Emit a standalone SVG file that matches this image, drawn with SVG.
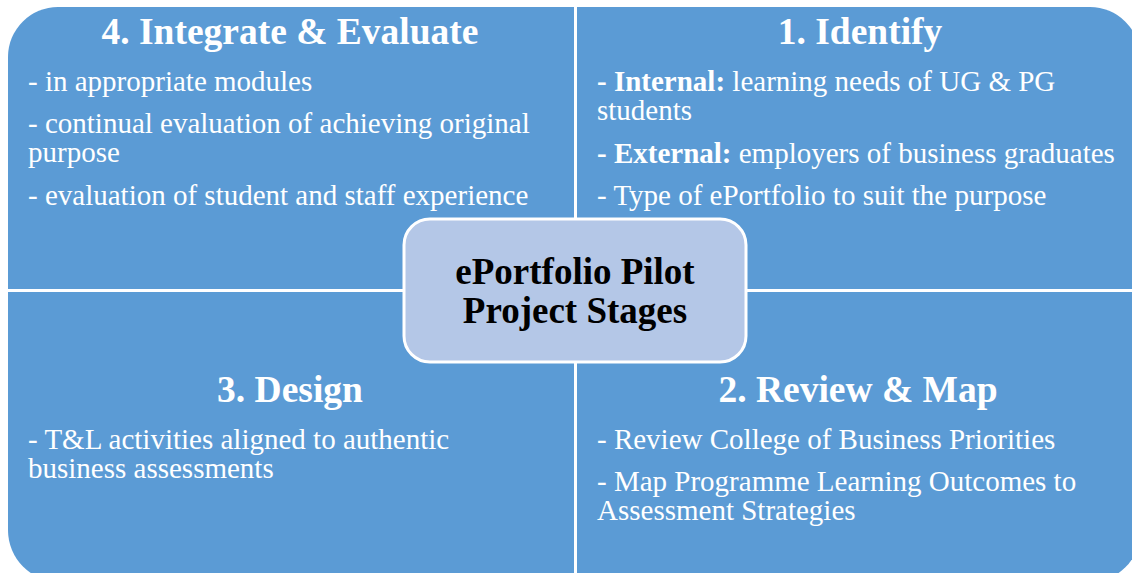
<svg xmlns="http://www.w3.org/2000/svg" width="1132" height="573" viewBox="0 0 1132 573">
<style>
.quad{fill:#5B9BD5;}
.center{fill:#B4C7E7;stroke:#FFFFFF;stroke-width:3;}
.h{font-family:"Liberation Serif","Times New Roman",serif;font-weight:bold;font-size:37.5px;fill:#FFFFFF;text-anchor:middle;}
.b{font-family:"Liberation Serif","Times New Roman",serif;font-size:29px;fill:#FFFFFF;}
.bb{font-weight:bold;}
.c{font-family:"Liberation Serif","Times New Roman",serif;font-weight:bold;font-size:37px;fill:#000000;text-anchor:middle;}
</style>
<rect width="1132" height="573" fill="#FFFFFF"/>
<g id="q4">
<path class="quad" d="M8 57 A50 50 0 0 1 58 7 L574 7 L574 289 L8 289 Z"/>
<text class="h" x="290" y="44">4. Integrate &amp; Evaluate</text>
<text class="b" x="28" y="91">- in appropriate modules</text>
<text class="b" x="28" y="133">- continual evaluation of achieving original</text>
<text class="b" x="28" y="162">purpose</text>
<text class="b" x="28" y="205">- evaluation of student and staff experience</text>
</g>
<g id="q1">
<path class="quad" d="M577 7 L1090 7 A50 50 0 0 1 1140 57 L1140 289 L577 289 Z"/>
<text class="h" x="860" y="44">1. Identify</text>
<text class="b" x="597" y="91"><tspan class="bb">- Internal:</tspan> learning needs of UG &amp; PG</text>
<text class="b" x="597" y="120">students</text>
<text class="b" x="597" y="163"><tspan class="bb">- External:</tspan> employers of business graduates</text>
<text class="b" x="597" y="205">- Type of ePortfolio to suit the purpose</text>
</g>
<g id="q3">
<path class="quad" d="M8 292 L574 292 L574 582 L60 582 A52 52 0 0 1 8 530 Z"/>
<text class="h" x="290" y="402">3. Design</text>
<text class="b" x="28" y="449">- T&amp;L activities aligned to authentic</text>
<text class="b" x="28" y="478">business assessments</text>
</g>
<g id="q2">
<path class="quad" d="M577 292 L1140 292 L1140 532 A50 50 0 0 1 1090 582 L577 582 Z"/>
<text class="h" x="858" y="402">2. Review &amp; Map</text>
<text class="b" x="597" y="449">- Review College of Business Priorities</text>
<text class="b" x="597" y="491">- Map Programme Learning Outcomes to</text>
<text class="b" x="597" y="520">Assessment Strategies</text>
</g>
<g id="connectors"></g>
<g id="center-node">
<rect class="center" x="404" y="219" width="342" height="143" rx="26" ry="26"/>
<text class="c" x="575" y="284">ePortfolio Pilot</text>
<text class="c" x="575" y="323">Project Stages</text>
</g>
</svg>
